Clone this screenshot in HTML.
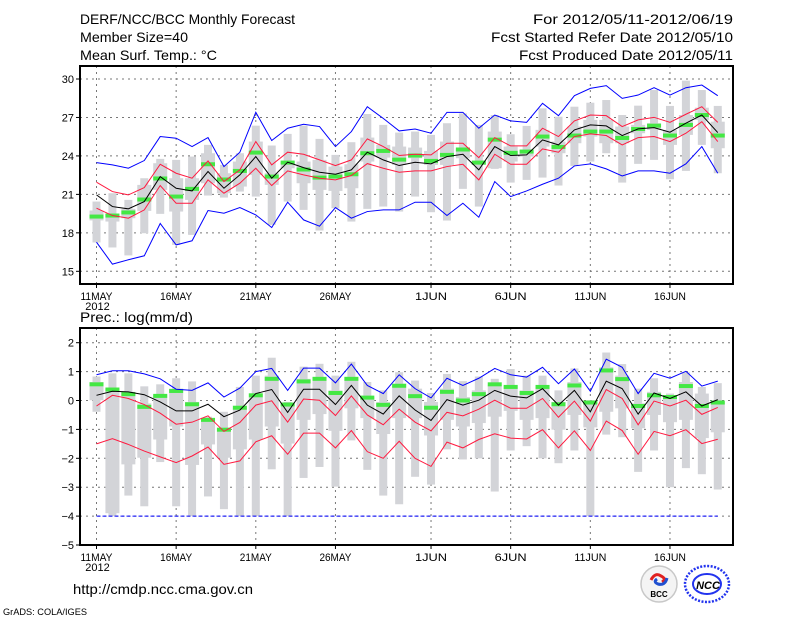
<!DOCTYPE html>
<html><head><meta charset="utf-8">
<style>
html,body{margin:0;padding:0;background:#fff;}
svg{display:block;}
text{font-family:"Liberation Sans",sans-serif;fill:#000;}
</style></head>
<body>
<svg id="chart" width="800" height="618" viewBox="0 0 800 618" xmlns="http://www.w3.org/2000/svg">
<rect width="800" height="618" fill="#fff"/>
<text x="80" y="24" font-size="14" textLength="215" lengthAdjust="spacingAndGlyphs">DERF/NCC/BCC Monthly Forecast</text>
<text x="80" y="42" font-size="14" textLength="108" lengthAdjust="spacingAndGlyphs">Member Size=40</text>
<text x="80" y="60" font-size="14" textLength="137" lengthAdjust="spacingAndGlyphs">Mean Surf. Temp.: °C</text>
<text x="733" y="24" font-size="14" text-anchor="end" textLength="200" lengthAdjust="spacingAndGlyphs">For 2012/05/11-2012/06/19</text>
<text x="733" y="42" font-size="14" text-anchor="end" textLength="242" lengthAdjust="spacingAndGlyphs">Fcst Started Refer Date 2012/05/10</text>
<text x="733" y="60" font-size="14" text-anchor="end" textLength="214" lengthAdjust="spacingAndGlyphs">Fcst Produced Date 2012/05/11</text>
<text x="80" y="322" font-size="14" textLength="113" lengthAdjust="spacingAndGlyphs">Prec.: log(mm/d)</text>
<text x="73" y="594" font-size="14" textLength="180" lengthAdjust="spacingAndGlyphs">http://cmdp.ncc.cma.gov.cn</text>
<text x="3" y="615" font-size="9" textLength="84" lengthAdjust="spacingAndGlyphs">GrADS: COLA/IGES</text>
<g id="top"></g>
<g id="bot"></g>
<g>
<circle cx="659" cy="584" r="18" fill="#f4f4f4" stroke="#c8c8c8" stroke-width="1.5"/>
<path d="M651 580 q4 -8 10 -4 q6 3 1 6" fill="none" stroke="#e02020" stroke-width="3"/>
<path d="M667 578 q-2 8 -9 6 q-5 -2 -1 -5" fill="none" stroke="#2050d0" stroke-width="3"/>
<text x="659" y="597" font-size="8" font-weight="bold" text-anchor="middle" fill="#333">BCC</text>
</g>
<g>
<ellipse cx="707" cy="584" rx="22" ry="18" fill="none" stroke="#2233ee" stroke-width="2.5" stroke-dasharray="2 1.5"/>
<ellipse cx="707" cy="584" rx="14" ry="10" fill="none" stroke="#2233ee" stroke-width="2"/>
<text x="708" y="589" font-size="11" font-weight="bold" font-style="italic" text-anchor="middle" fill="#2233ee">NCC</text>
</g>
</svg>
<script>
const dayTicks = ["11MAY","16MAY","21MAY","26MAY","1JUN","6JUN","11JUN","16JUN"];
const dayTickIdx = [0,5,10,15,21,26,31,36];
const tTicks = [30,27,24,21,18,15];
const pTicks = [2,1,0,-1,-2,-3,-4,-5];
const tMean = [20.96,20.05,19.87,20.44,22.39,21.48,21.27,22.78,21.48,22.52,23.95,22.26,23.51,23.09,22.73,22.57,22.91,24.29,23.69,23.25,23.51,23.38,23.95,24.13,22.91,24.73,24.03,24.08,25.25,24.86,26.03,26.42,26.34,25.59,26.11,26.21,25.85,26.55,27.19,25.82];
const tRedHi = [21.95,21.22,20.96,21.53,23.35,22.65,22.26,23.61,22.00,22.91,25.12,23.30,24.29,24.13,23.69,23.25,23.69,25.33,24.73,24.03,24.13,24.08,24.99,24.99,23.87,25.43,24.78,24.78,26.16,25.51,26.73,27.19,27.14,26.29,26.81,27.01,26.62,27.25,27.84,26.62];
const tRedLo = [19.92,19.35,19.14,19.79,21.69,20.31,20.31,22.13,21.09,21.87,23.04,21.69,22.83,22.52,22.26,22.13,22.47,23.40,23.04,22.73,22.83,22.83,23.17,23.35,22.13,24.13,23.35,23.35,24.55,24.29,25.51,25.72,25.59,24.86,25.43,25.51,25.12,25.77,26.67,25.12];
const tBlueHi = [23.48,23.30,23.04,23.64,25.51,25.38,24.73,25.43,23.17,24.29,27.40,25.20,26.16,26.47,26.29,24.73,25.90,27.84,26.93,25.95,26.10,25.77,27.40,27.40,26.16,27.19,26.73,26.62,28.10,27.14,28.70,29.27,29.48,28.49,28.75,29.32,28.75,29.32,29.53,28.70];
const tBlueLo = [17.27,15.56,15.90,16.21,18.73,17.06,17.38,19.74,19.53,19.97,19.40,18.42,20.39,19.01,18.52,19.97,19.14,19.66,19.79,19.79,20.39,20.39,19.35,20.31,19.22,22.00,20.83,21.27,21.79,22.26,23.22,23.38,22.99,22.44,22.83,22.83,22.65,23.38,24.73,22.65];
const tObs = [19.27,19.35,19.59,20.60,22.24,20.83,21.43,23.35,22.16,22.83,24.26,22.39,23.48,22.94,22.31,22.39,22.57,24.21,24.39,23.71,24.03,23.61,24.08,24.50,23.48,25.27,24.24,24.34,25.51,24.70,25.59,25.90,25.90,25.40,26.10,26.36,25.59,26.42,27.19,25.59];
const tMax = [20.44,21.09,20.57,22.26,23.77,23.69,23.95,24.86,23.30,24.21,26.36,24.81,25.72,26.36,25.33,24.08,25.07,27.27,26.42,25.82,25.90,25.64,26.55,27.32,26.42,27.19,25.69,26.34,27.71,27.06,27.84,28.15,28.36,27.19,27.92,29.14,27.90,29.87,29.14,27.90];
const tMin = [17.25,16.86,16.24,17.97,19.48,17.06,17.84,20.91,20.75,21.22,20.83,18.62,20.44,19.79,18.18,19.92,18.88,19.87,20.05,19.66,20.83,19.61,18.96,21.43,20.05,22.99,21.92,22.13,22.31,21.69,23.22,23.56,24.21,21.92,23.38,23.69,22.18,22.83,24.86,22.65];
const tQ3 = [19.74,19.48,19.87,21.74,23.43,22.26,22.26,24.21,22.65,23.56,25.12,22.65,23.56,23.56,23.69,23.17,23.35,25.43,24.86,24.73,24.65,24.39,25.12,24.60,23.56,25.90,24.73,24.47,26.03,25.12,26.29,26.81,26.81,26.29,26.42,26.55,26.03,27.19,27.76,26.67];
const tQ1 = [18.97,18.88,19.14,19.71,21.35,19.66,20.57,21.87,21.09,21.61,22.52,21.74,23.04,21.87,21.35,21.27,21.48,23.56,23.87,23.30,23.82,23.30,23.30,23.82,23.30,23.04,23.56,23.95,24.73,24.21,24.99,25.51,24.99,24.99,25.77,26.03,24.86,25.64,26.81,24.60];
const pMean = [0.18,0.32,0.30,0.20,-0.05,-0.36,-0.36,-0.13,-0.56,-0.33,0.24,0.38,-0.41,0.39,0.39,-0.14,0.52,-0.16,-0.47,0.16,-0.33,-0.69,0.03,-0.16,0.01,0.35,0.15,0.09,0.41,-0.16,0.35,-0.39,0.67,0.41,-0.47,0.26,0.07,0.30,-0.19,0.03];
const pRedHi = [-0.19,0.18,0.07,-0.14,-0.44,-0.82,-0.75,-0.53,-1.07,-0.76,-0.16,-0.01,-0.75,0.05,0.01,-0.52,0.16,-0.50,-0.84,-0.30,-0.75,-1.05,-0.41,-0.53,-0.30,0.01,-0.27,-0.27,0.07,-0.58,-0.02,-0.71,0.38,0.07,-0.84,-0.02,-0.19,0.01,-0.48,-0.24];
const pRedLo = [-1.50,-1.32,-1.52,-1.75,-1.95,-2.15,-1.92,-1.61,-2.21,-2.09,-1.43,-1.22,-1.86,-1.13,-1.13,-1.64,-1.04,-1.77,-2.00,-1.41,-2.00,-2.28,-1.44,-1.64,-1.35,-1.15,-1.30,-1.33,-1.01,-1.64,-1.05,-1.73,-0.71,-1.04,-1.86,-1.07,-1.22,-1.01,-1.49,-1.34];
const pBlueHi = [0.89,1.03,1.03,0.92,0.75,0.39,0.35,0.61,0.12,0.43,1.00,1.11,0.35,1.12,1.12,0.61,1.26,0.52,0.24,0.89,0.41,0.09,0.77,0.52,0.77,1.11,0.89,0.81,1.15,0.58,1.09,0.32,1.43,1.15,0.24,0.94,0.77,1.01,0.50,0.67];
const pBlueLo = [-4,-4,-4,-4,-4,-4,-4,-4,-4,-4,-4,-4,-4,-4,-4,-4,-4,-4,-4,-4,-4,-4,-4,-4,-4,-4,-4,-4,-4,-4,-4,-4,-4,-4,-4,-4,-4,-4,-4,-4];
const pObs = [0.56,0.38,0.22,-0.22,0.16,0.33,-0.13,-0.67,-1.01,-0.25,0.18,0.75,-0.14,0.66,0.75,0.26,0.75,0.10,-0.15,0.51,0.15,-0.25,0.30,0.00,0.22,0.56,0.47,0.26,0.47,-0.13,0.52,-0.07,1.04,0.74,-0.19,0.18,0.12,0.50,-0.19,-0.07];
const pMax = [0.83,0.94,0.94,0.49,0.56,0.77,0.66,-0.56,-0.39,0.47,0.86,1.48,-0.05,1.17,1.27,0.86,1.34,0.64,0.35,0.98,0.69,0.26,0.92,0.67,0.83,0.75,1.09,0.86,0.86,0.35,1.11,0.01,1.66,1.26,0.41,0.77,0.24,0.98,0.47,0.60];
const pMin = [-0.39,-4,-3.29,-3.66,-2.13,-3.66,-4,-3.32,-3.76,-4,-4,-2.38,-4,-2.68,-2.30,-2.98,-1.38,-2.40,-3.29,-3.59,-2.64,-2.91,-1.69,-2.04,-2.00,-3.15,-1.73,-1.58,-2.00,-2.17,-1.73,-4,-1.18,-1.27,-2.47,-1.73,-3.00,-2.34,-2.55,-3.08];
const pQ3 = [0.64,0.41,0.30,-0.10,0.20,0.41,-0.05,-0.61,-1.01,-0.27,0.12,0.86,-0.22,0.75,0.81,0.35,0.81,0.12,-0.05,0.58,0.41,-0.05,0.41,0.12,0.35,0.52,0.52,0.35,0.47,-0.05,0.64,-0.05,1.15,0.86,-0.10,0.30,0.18,0.64,0.24,-0.05];
const pQ1 = [0.01,-3.9,-2.21,-1.98,-1.35,-0.90,-2.23,-1.52,-1.98,-1.69,-1.35,-0.90,-1.49,-0.67,-0.47,-1.05,-0.27,-0.61,-1.16,-0.61,-0.61,-1.21,-0.67,-0.90,-0.78,-0.56,-0.36,-0.67,-0.61,-1.01,-0.50,-0.93,-0.39,-0.27,-0.96,-0.50,-0.75,-0.67,-1.30,-1.10];

const NS="http://www.w3.org/2000/svg";
const L=80,R=733;
function xOf(i){return 96.5+15.93*i;}
function mk(parent,tag,attrs){const e=document.createElementNS(NS,tag);for(const k in attrs)e.setAttribute(k,attrs[k]);parent.appendChild(e);return e;}

function panel(g,top,bottom,yOf,ticks,series,name){
  const grid=mk(g,'g',{});
  
  
  ticks.forEach(v=>{
    const y=yOf(v);
    if(y>top+1&&y<bottom-1){const gl=mk(grid,'line',{x1:L,x2:R,y1:y,y2:y,stroke:'#777','stroke-width':1,'stroke-dasharray':'2 4'});
    
    }
    const tk=mk(g,'line',{x1:L-4,x2:L,y1:y,y2:y,stroke:'#000','stroke-width':1});
    
    
    const t=mk(g,'text',{x:L-6,y:y+4,'font-size':11,'text-anchor':'end'});
    
    
    t.textContent=String(v).replace('-','\u2212');
  });
  dayTickIdx.forEach((d,k)=>{
    const x=xOf(d);
    const vl=mk(grid,'line',{x1:x,x2:x,y1:top,y2:bottom,stroke:'#777','stroke-width':1,'stroke-dasharray':'2 4'});
    
    
    const tk=mk(g,'line',{x1:x,x2:x,y1:bottom,y2:bottom+4,stroke:'#000'});
    
    
    const t=mk(g,'text',{x:x,y:bottom+16,'font-size':11,'text-anchor':'middle',textLength:32,lengthAdjust:'spacingAndGlyphs'});
    
    
    t.textContent=dayTicks[k];
  });
  const yr=mk(g,'text',{x:xOf(0)+1,y:bottom+26,'font-size':11,'text-anchor':'middle'});
  
  
  yr.textContent='2012';
  series.max.forEach((v,i)=>{
    const x=xOf(i);
    const y1=yOf(v),y2=yOf(series.min[i]);
    const b=mk(g,'rect',{x:x-4,y:y1,width:8,height:Math.max(1,y2-y1),fill:'#d3d4d8'});
    
    
    const q1=yOf(series.q3[i]),q2=yOf(series.q1[i]);
    const bx=mk(g,'rect',{x:x-7,y:q1,width:14,height:Math.max(1,q2-q1),fill:'#d3d4d8'});
    
    
  });
  series.obs.forEach((v,i)=>{
    const o=mk(g,'rect',{x:xOf(i)-7,y:yOf(v)-2,width:14,height:4,fill:'#44e844'});
    
    
  });
  function line(arr,color,nm,dash){
    const p=mk(g,'polyline',{points:arr.map((v,i)=>xOf(i)+','+yOf(v)).join(' '),fill:'none',stroke:color,'stroke-width':1});
    if(dash)p.setAttribute('stroke-dasharray',dash);
    
    
  }
  line(series.bhi,'#0000ff','max-line');
  line(series.blo,'#0000ff','min-line',series.bloDash);
  line(series.rhi,'#ff1a40','upper-spread-line');
  line(series.rlo,'#ff1a40','lower-spread-line');
  line(series.mean,'#000','ensemble-mean-line');
  const fr=mk(g,'rect',{x:L,y:top,width:R-L,height:bottom-top,fill:'none',stroke:'#000','stroke-width':2});
  
  
}
const tY=v=>79+(30-v)*12.82;
const pY=v=>342.7+(2-v)*28.9;
panel(document.getElementById('top'),66,284,tY,tTicks,{max:tMax,min:tMin,q3:tQ3,q1:tQ1,obs:tObs,bhi:tBlueHi,blo:tBlueLo,rhi:tRedHi,rlo:tRedLo,mean:tMean},'temperature');
panel(document.getElementById('bot'),328,545,pY,pTicks,{max:pMax,min:pMin,q3:pQ3,q1:pQ1,obs:pObs,bhi:pBlueHi,blo:pBlueLo,rhi:pRedHi,rlo:pRedLo,mean:pMean,bloDash:'4 2'},'precipitation');
</script>
</body></html>
